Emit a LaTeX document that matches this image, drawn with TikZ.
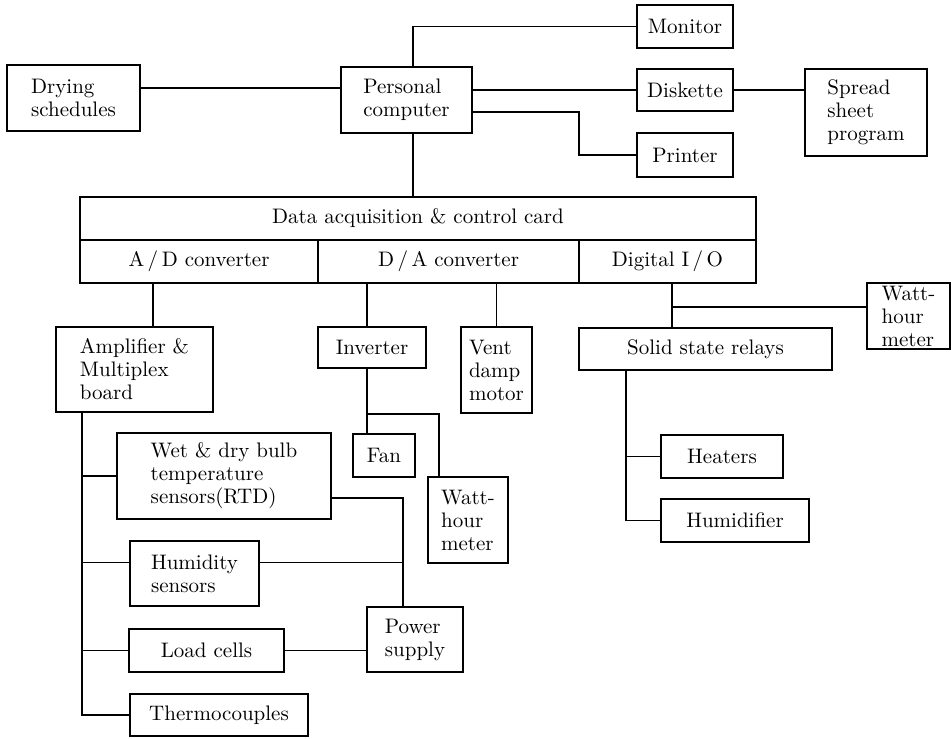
\documentclass[tikz,border=0pt]{standalone}
\begin{document}
\begin{tikzpicture}[x=0.5pt,y=-0.5pt,line width=0.8pt,
    blk/.style={draw,inner sep=0pt,align=left,font=\fontsize{10.5}{11.5}\selectfont}]
    \useasboundingbox (0,0) rectangle (951,738);
    \node [blk,minimum width=66.5pt,minimum height=33pt] (dry) at (73.5,98) {Drying\\schedules};
    \node [blk,minimum width=65.5pt,minimum height=33pt] (pc) at (406.5,100) {Personal\\computer};
    \node [blk,minimum width=48pt,minimum height=21.5pt] (mon) at (685,26.5) {Monitor};
    \node [blk,minimum width=48pt,minimum height=21pt] (disk) at (685,90) {Diskette};
    \node [blk,minimum width=48pt,minimum height=22pt] (prn) at (685,155) {Printer};
    \node [blk,minimum width=61pt,minimum height=43.5pt] (sheet) at (866,112.5) {Spread\\sheet\\program};
    \node [blk,minimum width=338pt,minimum height=21.5pt] (daq) at (418,218.5) {Data acquisition \& control card};
    \node [blk,minimum width=119pt,minimum height=21.5pt] (ad) at (199,261.5) {A\,/\,D converter};
    \node [blk,minimum width=130.5pt,minimum height=21.5pt] (da) at (448.5,261.5) {D\,/\,A converter};
    \node [blk,minimum width=88.5pt,minimum height=21.5pt] (dio) at (667.5,261.5) {Digital I\,/\,O};
    \node [blk,minimum width=78.5pt,minimum height=42.5pt] (amp) at (134.5,369.5) {Amplifier \&\\Multiplex\\board};
    \node [blk,minimum width=54pt,minimum height=20.5pt] (inv) at (372,347.5) {Inverter};
    \node [blk,minimum width=35.5pt,minimum height=43pt] (vent) at (496.5,370) {Vent\\damp\\motor};
    \node [blk,minimum width=126.5pt,minimum height=21pt] (ssr) at (705.5,349) {Solid state relays};
    \node [blk,minimum width=41.5pt,minimum height=33pt] (wattr) at (908.5,316) {Watt-\\hour\\meter};
    \node [blk,minimum width=31pt,minimum height=21.5pt] (fan) at (384,455.5) {Fan};
    \node [blk,minimum width=40pt,minimum height=43pt] (wattd) at (468,520) {Watt-\\hour\\meter};
    \node [blk,minimum width=61pt,minimum height=21.5pt] (heat) at (722,456.5) {Heaters};
    \node [blk,minimum width=74pt,minimum height=21.5pt] (humf) at (735,520.5) {Humidifier};
    \node [blk,minimum width=107pt,minimum height=43pt] (wet) at (224,476) {Wet \& dry bulb\\temperature\\sensors(RTD)};
    \node [blk,minimum width=64.5pt,minimum height=32.5pt] (hum) at (194.5,573.5) {Humidity\\sensors};
    \node [blk,minimum width=77.5pt,minimum height=21.5pt] (load) at (206.5,650.5) {Load cells};
    \node [blk,minimum width=89pt,minimum height=21pt] (thermo) at (219,715) {Thermocouples};
    \node [blk,minimum width=48pt,minimum height=32.5pt] (pow) at (415,639.5) {Power\\supply};
    \coordinate (p2) at ([xshift=-6pt]pow.north);

    \draw (dry.east) ++(0,-10) coordinate (d1) -- (d1 -| pc.west);
    \draw (pc.north) ++(6.5,0) coordinate (c0) |- (mon.west);
    \draw (pc.east |- disk.west) -- (disk.west);
    \draw (disk.east) -- (sheet.west |- disk.east);
    \draw (pc.east) ++(0,12) coordinate (p1) -- ++(106,0) |- (prn.west);
    \draw (pc.south) ++(6.5,0) coordinate (c9) -- (c9 |- daq.north);
    \draw (amp.north) ++(18.5,0) coordinate (a1) -- (a1 |- ad.south);
    \draw (inv.north) ++(-5,0) coordinate (i1) -- (i1 |- da.south);
    \draw (vent.north) -- (vent.north |- da.south);
    \draw (dio.south) ++(4.5,0) coordinate (s1) -- (s1 |- ssr.north);
    \draw (wattr.west) ++(0,-9) coordinate (w1) -- (w1 -| s1);
    \draw (i1 |- inv.south) -- (i1 |- fan.north);
    \draw (i1 |- inv.south) ++(0,45) coordinate (i2) -| ([xshift=-14.5pt]wattd.north);
    \draw (ssr.south) ++(-79.5,0) coordinate (s2) |- (humf.west);
    \draw (s2 |- heat.west) -- (heat.west);
    \draw (amp.south) ++(-52.5,0) coordinate (a2) |- (thermo.west);
    \draw (a2 |- wet.west) -- (wet.west);
    \draw (hum.west) ++(0,-11) coordinate (h1) -- (h1 -| a2);
    \draw (a2 |- load.west) -- (load.west);
    \draw (wet.east) ++(0,22) coordinate (e1) -| (p2);
    \draw (hum.east) ++(0,-11) coordinate (h2) -- (h2 -| p2);
    \draw (load.east) -- (load.east -| pow.west);
\end{tikzpicture}
\end{document}
